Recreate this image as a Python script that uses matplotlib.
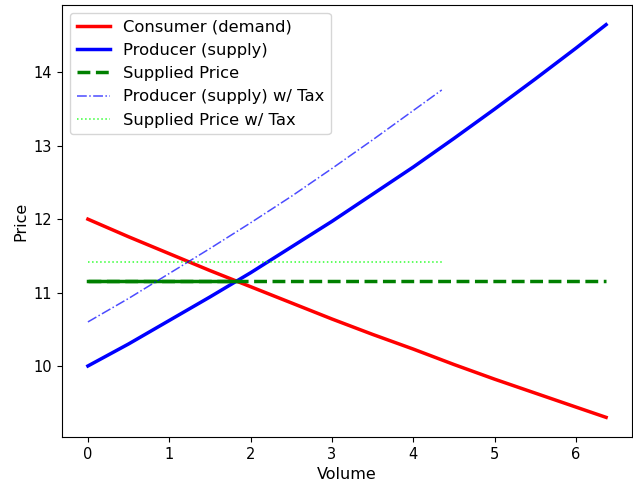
import matplotlib
matplotlib.use("Agg")
import matplotlib.pyplot as plt

# market curves sampled along the volume axis
volume = [0, 0.5, 1, 1.5, 2, 2.5, 3, 3.5, 4, 4.5, 5, 5.5, 6, 6.37]
demand = [12.00, 11.76, 11.53, 11.30, 11.08, 10.86, 10.64, 10.43, 10.23,
          10.02, 9.82, 9.63, 9.44, 9.30]
supply = [10.00, 10.30, 10.62, 10.94, 11.27, 11.62, 11.97, 12.34, 12.71,
          13.10, 13.50, 13.91, 14.33, 14.65]

volume_tax = [0, 0.5, 1, 1.5, 2, 2.5, 3, 3.5, 4, 4.35]
supply_tax = [10.60, 10.92, 11.26, 11.60, 11.95, 12.31, 12.69, 13.08, 13.48, 13.76]

eq_volume = 1.83
eq_price = 11.16
eq_price_tax = 11.42

fig, ax = plt.subplots(figsize=(6.33, 4.83), dpi=100)

ax.plot(volume, demand, color="r", lw=2.5, label="Consumer (demand)")
ax.plot(volume, supply, color="b", lw=2.5, label="Producer (supply)")
ax.plot([0, eq_volume], [eq_price, eq_price], color="g", lw=2.5)
ax.plot([volume[0], volume[-1]], [eq_price, eq_price], color="g", lw=2.5,
        ls="--", label="Supplied Price")
ax.plot(volume_tax, supply_tax, color="b", lw=1.1, ls="-.", alpha=0.7,
        label="Producer (supply) w/ Tax")
ax.plot([volume_tax[0], volume_tax[-1]], [eq_price_tax, eq_price_tax],
        color="lime", lw=1.1, ls=":", alpha=0.8, label="Supplied Price w/ Tax")

ax.set_xlabel("Volume", fontsize=11.5)
ax.set_ylabel("Price", fontsize=11.5)
ax.tick_params(labelsize=10.5)
ax.legend(loc="upper left", fontsize=11.8)

fig.subplots_adjust(left=62/633, right=632/633, top=1 - 5/483, bottom=1 - 437/483)
fig.savefig("out.png", dpi=100)
